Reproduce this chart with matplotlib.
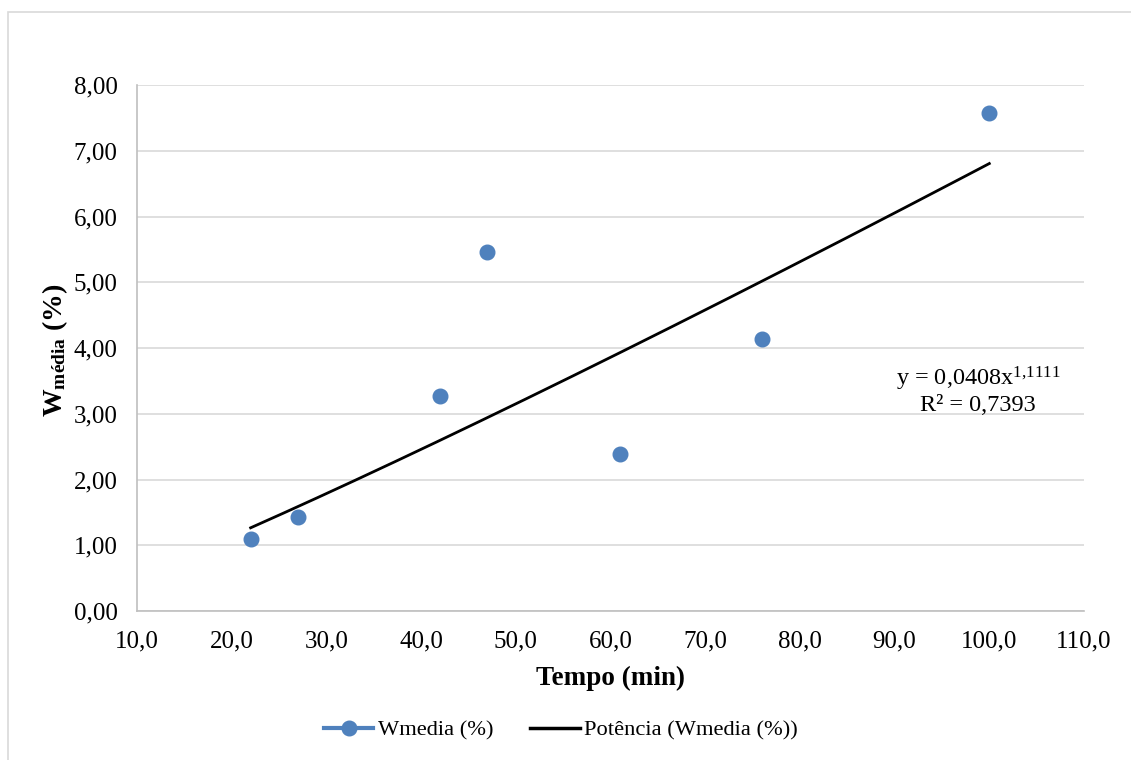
import numpy as np
import matplotlib
matplotlib.use("Agg")
import matplotlib.pyplot as plt
from matplotlib.patches import Rectangle
from matplotlib.lines import Line2D

plt.rcParams['font.family'] = ['Liberation Serif', 'DejaVu Serif']
plt.rcParams['mathtext.fontset'] = 'custom'
plt.rcParams['mathtext.rm'] = 'Liberation Serif'
plt.rcParams['mathtext.bf'] = 'Liberation Serif:bold'
plt.rcParams['mathtext.it'] = 'Liberation Serif:italic'

# Data
tempo = [22, 27, 42, 47, 61, 76, 100]
wmedia = [1.10, 1.43, 3.27, 5.46, 2.39, 4.14, 7.57]
coef_a = 0.0408
coef_b = 1.1111
x_ticks = [10, 20, 30, 40, 50, 60, 70, 80, 90, 100, 110]
y_ticks = [0, 1, 2, 3, 4, 5, 6, 7, 8]

W, H = 1131, 760
fig = plt.figure(figsize=(W / 100, H / 100), dpi=100)
fig.patches.append(Rectangle((8 / W, -0.1), 1.2, (H - 11.5) / H + 0.1, transform=fig.transFigure,
                             fill=False, edgecolor='#d9d9d9', linewidth=1.2))

ax = fig.add_axes([137 / W, 1 - 611 / H, (1084 - 137) / W, (611 - 85) / H])
ax.set_xlim(10, 110)
ax.set_ylim(0, 8)
ax.set_xticks(x_ticks)
ax.set_yticks(y_ticks)
ax.set_xticklabels([f"{v:.1f}".replace('.', ',') for v in x_ticks])
ax.set_yticklabels([f"{v:.2f}".replace('.', ',') for v in y_ticks])
ax.tick_params(length=0, labelsize=18)
ax.tick_params(axis='y', pad=14)
ax.tick_params(axis='x', pad=14)
ax.grid(axis='y', color='#d9d9d9', linewidth=1.2)
ax.set_axisbelow(True)
for s in ['top', 'right']:
    ax.spines[s].set_visible(False)
for s in ['left', 'bottom']:
    ax.spines[s].set_color('#bfbfbf')
    ax.spines[s].set_linewidth(1.2)

ax.plot(tempo, wmedia, linestyle='none', marker='o', markersize=10.5,
        color='#4f81bd', label='Wmedia (%)', zorder=3)
xt = np.linspace(min(tempo), max(tempo), 200)
ax.plot(xt, coef_a * xt ** coef_b, color='black', linewidth=2, label='Potência (Wmedia (%))', zorder=2)

fig.text(978 / W, 1 - 379 / H, r'y = 0,0408x$^{1{,}1111}$', ha='center', va='center', fontsize=17.5)
fig.text(978 / W, 1 - 405 / H, 'R² = 0,7393', ha='center', va='center', fontsize=17.5)

fig.text(610 / W, 1 - 678 / H, 'Tempo (min)', ha='center', va='center', fontsize=19.5, fontweight='bold')
fig.text(55 / W, 1 - 350 / H, r'$\mathbf{W}_{\mathbf{média}}$ (%)', ha='center', va='center',
         fontsize=20, fontweight='bold', rotation=90)

h1 = Line2D([], [], color='#4f81bd', marker='o', markersize=10.5, linewidth=3)
h2 = Line2D([], [], color='black', linewidth=2.5)
fig.legend([h1, h2], ['Wmedia (%)', 'Potência (Wmedia (%))'], loc='center',
           bbox_to_anchor=(561 / W, 1 - 730 / H), ncol=2, frameon=False, fontsize=16.2,
           handlelength=2.2, columnspacing=1.65, handletextpad=0.2)

fig.savefig('out.png', dpi=100)
